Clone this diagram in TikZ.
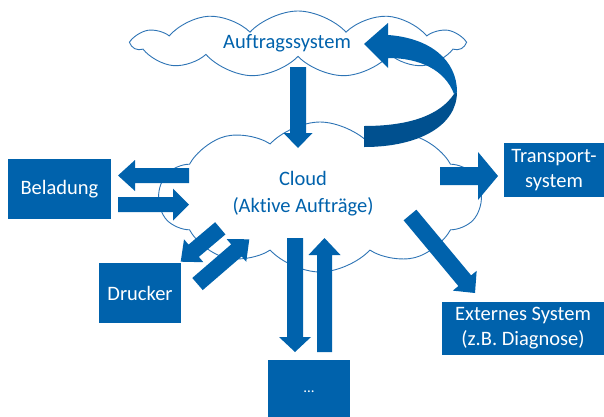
\documentclass[tikz,border=0pt]{standalone}
\usepackage{fontspec}
\setmainfont{Carlito}[Ligatures=NoCommon]
\usetikzlibrary{shapes.symbols,calc}
\definecolor{ppblue}{HTML}{0062AC}
\definecolor{ppdark}{HTML}{00508F}
\definecolor{ppline}{HTML}{2E74B5}
% block arrow: tail, tip, half shaft, half head, head length
\newcommand{\blockarrow}[5]{%
  \fill[blockfill] ($(#1)!#3!90:(#2)$) -- ($($(#2)!#5!(#1)$)!#3!90:(#2)$)
    -- ($($(#2)!#5!(#1)$)!#4!90:(#2)$) -- (#2)
    -- ($($(#2)!#5!(#1)$)!#4!-90:(#2)$) -- ($($(#2)!#5!(#1)$)!#3!-90:(#2)$)
    -- ($(#1)!#3!-90:(#2)$) -- cycle;}
\begin{document}
\begin{tikzpicture}[x=1pt, y=-1pt, every node/.style={font=\fontsize{20.5}{25}\selectfont}, box/.style={fill=ppblue, text=white, inner sep=0pt, align=center}, wolke/.style={cloud, cloud ignores aspect, cloud puff arc=95, draw=ppline, line width=0.9pt, fill=white, inner sep=0pt}, blockfill/.style={fill=ppblue}]
	\useasboundingbox (0,0) rectangle (604,416);

	% clouds
	\node[wolke, cloud puffs=11, minimum width=330pt, minimum height=66pt] (auftrag) at (298,44) {};
	\node[wolke, cloud puffs=10, minimum width=322pt, minimum height=150pt] (cloud) at (320,197) {};
	\node[text=ppblue] (auftragtext) at (287,43) {Auftragssystem};
	\node[text=ppblue, align=center, font=\fontsize{20.5}{27}\selectfont] (cloudtext) at (303,194) {Cloud\\(Aktive Aufträge)};

	% boxes
	\node[box, minimum width=103pt, minimum height=60pt] (beladung) at (59.5,189) {Beladung};
	\node[box, minimum width=82pt, minimum height=60pt] (drucker) at (140,293) {Drucker};
	\node[box, minimum width=82pt, minimum height=60pt] (weitere) at (309,390) {\raisebox{-5pt}{\fontsize{15}{18}\selectfont ...}};
	\node[box, minimum width=162pt, minimum height=53pt] (extern) at (523,328.5) {Externes System\\(z.B. Diagnose)};
	\node[box, minimum width=100pt, minimum height=54pt] (transport) at (554,170) {Transport-\\system};

	% arrow ends
	\coordinate (a1) at (298,67);    \coordinate (a2) at (298,148);
	\coordinate (b1) at (189,175.5); \coordinate (b2) at (118,175.5);
	\coordinate (b3) at (118,204.5); \coordinate (b4) at (189,204.5);
	\coordinate (d1) at (220.3,228.3); \coordinate (d2) at (180.7,261.7);
	\coordinate (d3) at (197.5,284); \coordinate (d4) at (249.3,239.3);
	\coordinate (w1) at (295,238);   \coordinate (w2) at (295,352);
	\coordinate (w3) at (324.5,352); \coordinate (w4) at (324.5,238);
	\coordinate (e1) at (410,215);   \coordinate (e2) at (475,293);
	\coordinate (t1) at (440,176);   \coordinate (t2) at (498,176);

	\blockarrow{a1}{a2}{8pt}{14.5pt}{15pt}
	\blockarrow{b1}{b2}{7.5pt}{15.5pt}{17pt}
	\blockarrow{b3}{b4}{7.5pt}{16pt}{16pt}
	\blockarrow{d1}{d2}{8pt}{15pt}{17pt}
	\blockarrow{d3}{d4}{8pt}{15pt}{17pt}
	\blockarrow{w1}{w2}{8pt}{16pt}{15pt}
	\blockarrow{w3}{w4}{7.5pt}{16pt}{17pt}
	\blockarrow{e1}{e2}{8.3pt}{15.5pt}{16pt}
	\blockarrow{t1}{t2}{9pt}{24pt}{20pt}

	% curved arrow back to Auftragssystem
	\fill[ppdark] (457,92) .. controls (457,125) and (420,147) .. (364,147) -- (364,126)
		.. controls (410,126) and (440,115) .. (454,94) -- cycle;
	\fill[ppblue] (364,44) -- (388,23) -- (388,35) .. controls (430,38) and (457,60) .. (457,92)
		-- (454,94) .. controls (445,70) and (420,58) .. (388,58) -- (388,68) -- cycle;
\end{tikzpicture}
\end{document}
